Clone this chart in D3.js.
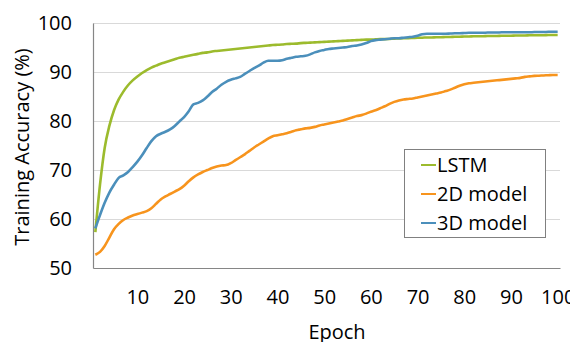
<!DOCTYPE html>
<html>
<head>
<meta charset="utf-8">
<script src="https://cdn.jsdelivr.net/npm/d3@7"></script>
<style>
  body { margin: 0; background: #fff; }
  svg text { font-family: "Open Sans", sans-serif; fill: #000; }
</style>
</head>
<body>
<svg id="chart" width="570" height="342"></svg>
<script>
// one value per epoch, 1..100
const epochs = d3.range(1, 101);
const xTicks = [10, 20, 30, 40, 50, 60, 70, 80, 90, 100];
const yTicks = [50, 60, 70, 80, 90, 100];
const seriesNames = ['LSTM', '2D model', '3D model'];

const lstm = [
  57.3, 67, 74.5, 79, 82.2, 84.4, 86, 87.3, 88.3, 89.1,
  89.8, 90.4, 90.9, 91.3, 91.7, 92.0, 92.3, 92.6, 92.9, 93.1,
  93.3, 93.5, 93.7, 93.9, 94.0, 94.2, 94.3, 94.4, 94.5, 94.6,
  94.7, 94.8, 94.9, 95.0, 95.1, 95.2, 95.3, 95.4, 95.5, 95.55,
  95.6, 95.7, 95.75, 95.8, 95.9, 95.95, 96.0, 96.05, 96.1, 96.15,
  96.2, 96.25, 96.3, 96.35, 96.4, 96.45, 96.5, 96.55, 96.6, 96.6,
  96.65, 96.7, 96.7, 96.75, 96.8, 96.85, 96.9, 96.9, 96.95, 97.0,
  97.0, 97.05, 97.05, 97.1, 97.1, 97.15, 97.15, 97.2, 97.2, 97.25,
  97.25, 97.3, 97.3, 97.3, 97.35, 97.35, 97.35, 97.4, 97.4, 97.4,
  97.45, 97.45, 97.45, 97.5, 97.5, 97.5, 97.5, 97.55, 97.55, 97.55
];
const model2d = [
  52.7, 53.3, 54.5, 56.2, 57.9, 59.0, 59.8, 60.3, 60.7, 61.0,
  61.3, 61.6, 62.2, 63.1, 64.0, 64.6, 65.1, 65.6, 66.1, 66.8,
  67.7, 68.5, 69.1, 69.6, 70.0, 70.4, 70.7, 70.9, 71.0, 71.4,
  72.0, 72.6, 73.2, 73.9, 74.6, 75.2, 75.8, 76.4, 76.9, 77.1,
  77.3, 77.5, 77.8, 78.1, 78.3, 78.5, 78.6, 78.8, 79.1, 79.3,
  79.5, 79.7, 79.9, 80.1, 80.4, 80.7, 81.0, 81.2, 81.5, 81.9,
  82.2, 82.6, 83.0, 83.5, 83.9, 84.2, 84.4, 84.5, 84.6, 84.8,
  85.0, 85.2, 85.4, 85.6, 85.8, 86.1, 86.4, 86.8, 87.2, 87.5,
  87.7, 87.8, 87.9, 88.0, 88.1, 88.2, 88.3, 88.4, 88.5, 88.6,
  88.7, 88.8, 89.0, 89.1, 89.2, 89.25, 89.3, 89.35, 89.4, 89.4
];
const model3d = [
  58.1, 60.8, 63.3, 65.4, 67.0, 68.4, 68.9, 69.6, 70.6, 71.7,
  73.0, 74.5, 75.9, 76.9, 77.4, 77.8, 78.3, 79.0, 79.9, 80.8,
  82.0, 83.4, 83.7, 84.2, 85.0, 85.9, 86.6, 87.4, 88.0, 88.4,
  88.7, 89.0, 89.6, 90.2, 90.8, 91.3, 91.9, 92.3, 92.3, 92.3,
  92.4, 92.7, 92.9, 93.1, 93.2, 93.3, 93.6, 94.0, 94.3, 94.5,
  94.7, 94.8, 94.9, 95.0, 95.1, 95.3, 95.4, 95.6, 95.9, 96.3,
  96.5, 96.6, 96.7, 96.8, 96.9, 96.9, 97.0, 97.1, 97.2, 97.4,
  97.7, 97.8, 97.8, 97.8, 97.8, 97.8, 97.85, 97.9, 97.9, 97.95,
  98.0, 98.0, 98.0, 98.0, 98.05, 98.05, 98.05, 98.1, 98.1, 98.1,
  98.1, 98.1, 98.1, 98.1, 98.15, 98.15, 98.15, 98.2, 98.2, 98.2
];

const colors = ['#9cbb2d', '#f7941d', '#4b8fbb'];
const series = [lstm, model2d, model3d];

var svg = d3.select('#chart'),
    plotL = 93, plotR = 560, plotT = 23, plotB = 268;

var x = d3.scaleLinear().domain([0.5, 100.5]).range([plotL, plotR]);
var y = d3.scaleLinear().domain([50, 100]).range([plotB, plotT]);

// gridlines
svg.append('g')
    .selectAll('line')
    .data(yTicks.filter(t => t > 50))
    .enter().append('line')
    .attr('x1', plotL).attr('x2', plotR)
    .attr('y1', d => y(d) + 0.5).attr('y2', d => y(d) + 0.5)
    .attr('stroke', '#d9d9d9').attr('stroke-width', 1);

// axes
var yAxis = svg.append('g')
    .attr('transform', 'translate(' + plotL + ',0)')
    .call(d3.axisLeft(y).tickValues(yTicks).tickSize(0).tickPadding(21));
var xAxis = svg.append('g')
    .attr('transform', 'translate(0,' + plotB + ')')
    .call(d3.axisBottom(x).tickValues(xTicks).tickSize(0).tickPadding(22));

[xAxis, yAxis].forEach(a => {
    a.select('.domain').attr('stroke', '#868686').attr('stroke-width', 1.2);
    a.selectAll('text').attr('font-size', '20px').attr('fill', '#000')
        .attr('font-family', '"Open Sans", sans-serif');
});

// lines
var line = d3.line()
    .x((d, i) => x(epochs[i]))
    .y(d => y(d))
    .curve(d3.curveMonotoneX);

svg.append('g')
    .selectAll('path')
    .data(series)
    .enter().append('path')
    .attr('d', line)
    .attr('fill', 'none')
    .attr('stroke', (d, i) => colors[i])
    .attr('stroke-width', 2.6)
    .attr('stroke-linejoin', 'round');

// axis titles
svg.append('text')
    .attr('transform', 'translate(29,147) rotate(-90)')
    .attr('text-anchor', 'middle')
    .attr('font-size', '20px')
    .text('Training Accuracy (%)');

svg.append('text')
    .attr('x', 337).attr('y', 339)
    .attr('text-anchor', 'middle')
    .attr('font-size', '20px')
    .text('Epoch');

// legend
var legend = svg.append('g');
legend.append('rect')
    .attr('x', 404.5).attr('y', 149.5)
    .attr('width', 141).attr('height', 88)
    .attr('fill', '#fff').attr('stroke', '#808080').attr('stroke-width', 1);

var items = legend.selectAll('g.item')
    .data(seriesNames)
    .enter().append('g')
    .attr('class', 'item')
    .attr('transform', (d, i) => 'translate(0,' + (165 + i * 29) + ')');

items.append('line')
    .attr('x1', 421).attr('x2', 436)
    .attr('stroke', (d, i) => colors[i])
    .attr('stroke-width', 2);

items.append('text')
    .attr('x', 437).attr('dy', '0.36em')
    .attr('font-size', '20px')
    .text(d => d);
</script>
</body>
</html>
